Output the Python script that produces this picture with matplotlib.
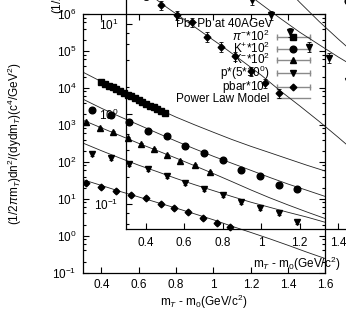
"""Pb+Pb at 40 AGeV transverse-mass spectra, with the offset second copy of the plot."""
import matplotlib

matplotlib.use("Agg")
import matplotlib.pyplot as plt
from matplotlib.legend_handler import HandlerLine2D, HandlerTuple
from matplotlib.lines import Line2D
from matplotlib.ticker import FuncFormatter, LogLocator, MultipleLocator, NullFormatter, NullLocator

plt.rcParams["font.family"] = ["Liberation Sans", "DejaVu Sans"]
plt.rcParams["mathtext.fontset"] = "custom"
plt.rcParams["mathtext.rm"] = "Liberation Sans"
plt.rcParams["mathtext.it"] = "Liberation Sans:italic"
plt.rcParams["mathtext.bf"] = "Liberation Sans:bold"
plt.rcParams["font.size"] = 8.5

# --- data ----------------------------------------------------------------
pim_x = [0.40, 0.42, 0.44, 0.46, 0.48, 0.50, 0.52, 0.54, 0.56, 0.58,
         0.60, 0.62, 0.64, 0.66, 0.68, 0.70, 0.72, 0.74]
pim_y = [14500, 12900, 11600, 10300, 9200, 8200, 7400, 6600, 5900, 5200,
         4700, 4200, 3700, 3300, 3000, 2650, 2350, 2100]

kp_x = [0.35, 0.45, 0.55, 0.65, 0.75, 0.85, 0.95, 1.05, 1.15, 1.25, 1.35, 1.45]
kp_y = [2500, 1860, 1200, 680, 500, 270, 174, 112, 60, 42, 23.5, 18]

km_x = [0.32, 0.39, 0.46, 0.54, 0.61, 0.68, 0.75, 0.82, 0.90, 0.98]
km_y = [1200, 830, 650, 440, 300, 225, 150, 105, 81, 52]

p_x = [0.35, 0.45, 0.55, 0.65, 0.75, 0.85, 0.95, 1.05, 1.15, 1.25, 1.35, 1.45]
p_y = [162, 126, 87, 65, 42, 27, 18.6, 12.6, 8.1, 5.6, 4.2, 2.3]

pbar_x = [0.32, 0.40, 0.48, 0.56, 0.64, 0.72, 0.79, 0.865, 0.945, 1.02, 1.09]
pbar_y = [27, 21, 16.2, 12.6, 10.5, 7.2, 5.6, 4.4, 3.0, 2.2, 1.7]

# relative error bar size per species
rel_err = {"pim": 0.03, "kp": 0.06, "km": 0.08, "p": 0.12, "pbar": 0.12}

# power law model curves, read at these mT - m0 values
model_x = [0.3, 0.4, 0.5, 0.6, 0.7, 0.8, 0.9, 1.0, 1.1, 1.2, 1.3, 1.4, 1.5, 1.6]
pim_model = [26900, 14800, 8300, 4800, 2750, 1620, 1000, 630, 400, 263, 178, 120, 81, 56]
kp_model = [5000, 2820, 1660, 1000, 600, 363, 224, 141, 91, 59, 38, 25, 17, 11.5]
km_model = [1350, 830, 513, 316, 200, 126, 78, 48, 29, 17.4, 10.7, 6.8, 4.4, 2.9]
p_model = [324, 200, 126, 81, 54, 35.5, 24, 16.6, 11.5, 8.1, 5.9, 4.3, 3.2, 2.3]
pbar_model = [33, 23, 15.8, 11.2, 7.9, 5.6, 3.9, 2.7, 1.8, 1.23, 0.83, 0.55, 0.36, 0.24]

labels = [r"$\pi^{-}$*10$^{2}$", r"K$^{+}$*10$^{2}$", r"K$^{-}$*10$^{2}$",
          r"p*(5*10$^{0}$)", r"pbar*10$^{0}$"]
series = [
    ("pim", pim_x, pim_y, pim_model, "s", 4.2),
    ("kp", kp_x, kp_y, kp_model, "o", 4.8),
    ("km", km_x, km_y, km_model, "^", 4.6),
    ("p", p_x, p_y, p_model, "v", 4.6),
    ("pbar", pbar_x, pbar_y, pbar_model, "D", 3.4),
]

ylabel = r"(1/2$\pi$m$_T$)dn$^2$/(dydm$_T$)(c$^4$/GeV$^2$)"
xlabel = r"m$_T$ - m$_0$(GeV/c$^2$)"


def draw(ax):
    for key, x, y, model, marker, ms in series:
        ax.plot(model_x, model, color="#222222", lw=0.6)
        err = [v * rel_err[key] for v in y]
        ax.errorbar(x, y, yerr=err, fmt=marker, ms=ms, color="black",
                    ecolor="black", elinewidth=0.6, capsize=1.5, capthick=0.6)


def style(ax, xlab_y, ylab_x, xpad, ypad):
    ax.set_yscale("log")
    ax.yaxis.set_major_locator(LogLocator(base=10, numticks=30))
    ax.yaxis.set_minor_locator(LogLocator(base=10, subs=(2.0, 4.0, 6.0, 8.0), numticks=30))
    ax.yaxis.set_minor_formatter(NullFormatter())
    ax.xaxis.set_major_locator(MultipleLocator(0.2))
    ax.xaxis.set_minor_locator(NullLocator())
    ax.xaxis.set_major_formatter(FuncFormatter(lambda v, _: f"{v:g}"))
    ax.tick_params(which="both", direction="in", top=True, right=True, width=0.8)
    ax.tick_params(which="major", length=4)
    ax.tick_params(which="minor", length=2.2)
    ax.tick_params(axis="x", pad=xpad)
    ax.tick_params(axis="y", pad=ypad)
    for s in ax.spines.values():
        s.set_linewidth(0.9)
    ax.set_xlabel(xlabel)
    ax.set_ylabel(ylabel)
    ax.xaxis.set_label_coords(0.5, xlab_y)
    ax.yaxis.set_label_coords(ylab_x, 0.5)


fig = plt.figure(figsize=(3.46, 3.09), dpi=100)

# main plot
ax = fig.add_axes([0.2390, 0.1175, 0.7017, 0.8372])
draw(ax)
ax.set_xlim(0.3, 1.6)
ax.set_ylim(0.1, 1e6)
style(ax, -0.076, -0.243, 4.5, 4.5)

handles, hmap = [], {}
for key, x, y, model, marker, ms in series:
    bar = Line2D([], [], color="#8a8a8a", lw=1, marker="|", ms=5, mew=1)
    dot = Line2D([], [], ls="none", marker=marker, ms=ms, color="black")
    hmap[bar] = HandlerLine2D(numpoints=2, marker_pad=0)
    handles.append((bar, dot))
handles.append(Line2D([], [], color="#8a8a8a", lw=1))
hmap[tuple] = HandlerTuple(ndivide=1)
leg = ax.legend(handles, labels + ["Power Law Model"], handler_map=hmap,
                title="Pb+Pb at 40AGeV", title_fontsize=8.5, alignment="left",
                markerfirst=False, frameon=False, loc="upper right",
                bbox_to_anchor=(0.936, 0.985), borderpad=0, borderaxespad=0,
                labelspacing=-0.31, handlelength=2.8, handletextpad=0.6)
leg._legend_box.sep = -0.6  # a little more room under the title line

# second, larger copy of the plot drawn over the first
inset = fig.add_axes([0.3656, 0.2589, 0.9841, 1.9159])
inset.set_facecolor("none")
draw(inset)
inset.set_xlim(0.3, 2.069)
inset.set_ylim(10 ** -1.278, 10 ** 5.30)
style(inset, -0.044, -0.175, 5.5, 6)

fig.savefig("out.png", dpi=100)
plt.close(fig)
